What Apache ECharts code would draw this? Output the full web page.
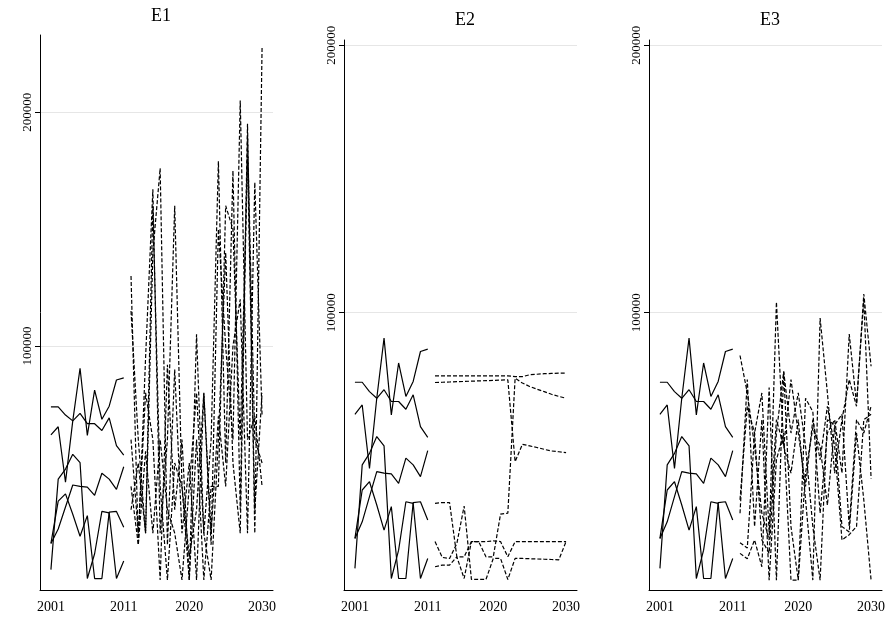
<!DOCTYPE html>
<html>
<head>
<meta charset="utf-8">
<script src="https://cdn.jsdelivr.net/npm/echarts@6/dist/echarts.min.js"></script>
<style>html,body{margin:0;padding:0;background:#fff}#c{width:891px;height:623px}</style>
</head>
<body>
<div id="c"></div>
<script>
// 年份
var histYears = [2001,2002,2003,2004,2005,2006,2007,2008,2009,2010,2011];
var projYears = [2012,2013,2014,2015,2016,2017,2018,2019,2020,2021,2022,2023,2024,2025,2026,2027,2028,2029,2030];
var tickYears = [2001, 2011, 2020, 2030];
var yTicks = [100000, 200000];
var panelTitles = ['E1', 'E2', 'E3'];

// 历史数据 (三个面板相同)
var hist1 = [74000,74000,70500,68000,71200,66800,66800,63900,69300,57400,53400];
var hist2 = [62000,65500,41800,68000,90500,61800,81200,68700,74300,85500,86400];
var hist3 = [4400,43100,47400,53700,50200,600,11200,29300,28700,600,8100];
var hist4 = [15600,21800,31200,40600,40000,39700,36200,45600,43100,38700,48400];
var hist5 = [15600,33700,36800,28100,18700,27500,600,600,29000,29300,22500];

// E1 预测 (千)
var e1a = [130,15,95,167,20,60,160,40,0,105,20,60,179,50,175,30,195,20,228];
var e1b = [115,60,20,140,176,15,90,20,50,0,80,15,150,100,60,205,60,70,40];
var e1c = [60,20,80,60,0,92,30,60,0,60,0,40,40,160,150,60,180,30,80];
var e1d = [40,15,55,20,60,30,20,0,40,80,20,0,60,140,50,20,190,60,50];
var e1e = [30,50,20,160,40,0,50,40,10,30,80,20,70,40,100,120,20,170,70];

// E2 预测
var e2a = [76400,76400,76400,76400,76400,76400,76400,76400,76400,76400,76400,76100,76100,76800,77000,77200,77300,77400,77400];
var e2b = [73900,74000,74100,74200,74300,74400,74500,74600,74700,74800,74900,44300,50800,50200,49600,48900,48300,48000,47700];
var e2c = [28700,29000,29000,8700,8700,14400,14400,8700,8700,24700,25000,75500,73700,72400,71400,70500,69500,68700,68000];
var e2d = [14400,8500,8100,13700,27700,250,250,250,8100,8100,250,8100,8100,8000,7900,7800,7700,7600,14400];
var e2e = [5000,5600,5600,8700,600,14400,14400,14400,14700,14400,8700,14400,14400,14400,14400,14400,14400,14400,14400];

// E3 预测 (千)
var e3a = [84,70,50,25,15,104,50,40,60,30,0,98,70,40,60,75,65,107,80];
var e3b = [10,8,15,5,72,0,78,20,0,68,63,25,55,60,40,92,66,105,38];
var e3c = [30,65,55,15,10,55,78,55,70,50,20,0,60,58,62,20,60,55,65];
var e3d = [25,75,20,60,0,45,55,0,0,40,57,50,28,58,20,18,55,30,0];
var e3e = [14,12,55,70,18,60,50,75,55,35,60,45,65,50,15,17,20,60,62];

var hists = [hist1, hist2, hist3, hist4, hist5];
var projs = [
	[e1a,e1b,e1c,e1d,e1e].map(function(a){ return a.map(function(v){ return v*1000; }); }),
	[e2a,e2b,e2c,e2d,e2e],
	[e3a,e3b,e3c,e3d,e3e].map(function(a){ return a.map(function(v){ return v*1000; }); })
];
var yMin = [-4300, -3700, -3700];
var yMax = [233000, 202000, 202000];
var gridLeft = [40, 344, 649];
var gridTop = [35, 40, 40];

var cats = [];
for (var y = 2000; y <= 2031; y++) cats.push(String(y));

var font = 'Liberation Serif';
var grids = [], xAxes = [], yAxes = [], series = [], titles = [];
var showYear = function(i, v){ return tickYears.indexOf(+v) >= 0; };

for (var p = 0; p < 3; p++) {
	grids.push({left: gridLeft[p], top: gridTop[p], width: 233, bottom: 33, containLabel: false});
	titles.push({text: panelTitles[p], left: gridLeft[p] + 116, top: p === 0 ? 2 : 6, textAlign: 'center',
		textStyle: {fontFamily: font, fontSize: 18, fontWeight: 'normal', color: '#000'}});
	xAxes.push({
		type: 'category', gridIndex: p, data: cats, boundaryGap: true,
		axisLine: {onZero: false, lineStyle: {color: '#000'}},
		axisTick: {length: 6, alignWithLabel: true, lineStyle: {color: '#000'}, interval: showYear},
		axisLabel: {color: '#000', fontFamily: font, fontSize: 14, margin: 10, interval: showYear},
		splitLine: {show: false}
	});
	yAxes.push({
		type: 'value', gridIndex: p, min: yMin[p], max: yMax[p],
		axisLine: {show: true, lineStyle: {color: '#000'}},
		axisTick: {show: true, length: 5, lineStyle: {color: '#000'}, customValues: yTicks},
		axisLabel: {color: '#000', fontFamily: font, fontSize: 13, rotate: 90, margin: 6,
			customValues: yTicks, formatter: function(v){ return String(v); }},
		splitLine: {show: true, lineStyle: {color: '#e6e6e6'}}
	});
	for (var k = 0; k < 5; k++) {
		series.push({
			type: 'line', xAxisIndex: p, yAxisIndex: p, symbol: 'none', silent: true,
			data: histYears.map(function(yr, i){ return [String(yr), hists[k][i]]; }),
			lineStyle: {color: '#000', width: 1.2}
		});
		series.push({
			type: 'line', xAxisIndex: p, yAxisIndex: p, symbol: 'none', silent: true,
			data: projYears.map(function(yr, i){ return [String(yr), projs[p][k][i]]; }),
			lineStyle: {color: '#000', width: 1.2, type: [4, 2]}
		});
	}
}

var chart = echarts.init(document.getElementById('c'));
chart.setOption({animation: false, title: titles, grid: grids, xAxis: xAxes, yAxis: yAxes, series: series});
</script>
</body>
</html>
